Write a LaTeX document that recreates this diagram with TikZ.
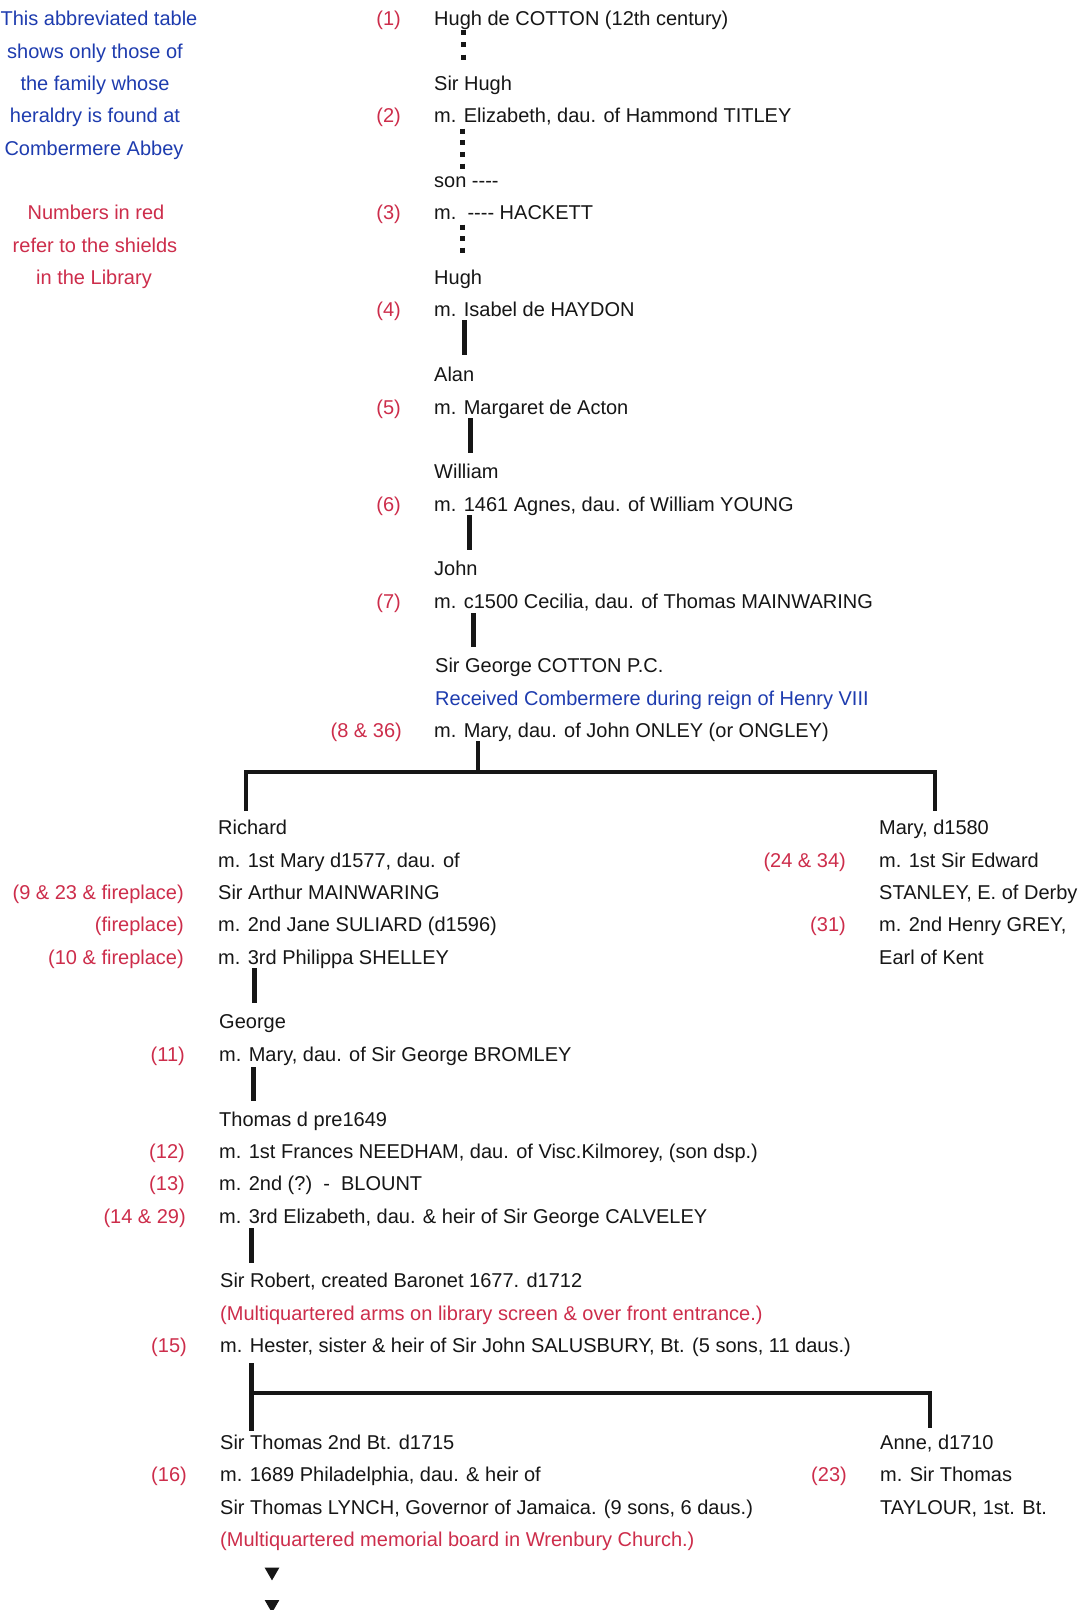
\documentclass[tikz,border=0pt]{standalone}
\usepackage{fontspec}
\setmainfont{Liberation Sans}
\usetikzlibrary{shapes.geometric}
\definecolor{ink}{RGB}{22,22,22}
\definecolor{numred}{RGB}{205,45,75}
\definecolor{noteblue}{RGB}{30,60,175}
\newcommand\rowy[1]{18.6+32.36*#1}
\tikzset{
  basetext/.style={inner sep=0pt, text height=14.3pt, text depth=0pt, font=\fontsize{20}{24}\selectfont},
  txt/.style={basetext, anchor=west, text=ink},
  num/.style={basetext, anchor=east, text=numred},
  bluetxt/.style={basetext, anchor=west, text=noteblue},
  redtxt/.style={basetext, anchor=west, text=numred},
  bluenote/.style={basetext, anchor=center, text=noteblue},
  rednote/.style={basetext, anchor=center, text=numred},
  conn/.style={draw=ink, line width=5pt, line cap=butt},
  branch/.style={draw=ink, line width=4.8pt, line join=miter, line cap=butt},
  dots/.style={draw=ink, line width=5pt, line cap=butt},
  tri/.style={fill=ink, regular polygon, regular polygon sides=3, shape border rotate=180, inner sep=0pt, minimum size=17pt}
}
\begin{document}
\begin{tikzpicture}[x=1pt,y=-1pt]
\useasboundingbox[fill=white] (0,0) rectangle (1087,1610);

% left notes
\node[bluenote] (n1) at (99,\rowy{0}) {This abbreviated table};
\node[bluenote] (n2) at (95,\rowy{1}) {shows only those of};
\node[bluenote] (n3) at (95,\rowy{2}) {the family whose};
\node[bluenote] (n4) at (95,\rowy{3}) {heraldry is found at};
\node[bluenote] (n5) at (94,\rowy{4}) {Combermere Abbey};
\node[rednote] (r1) at (96,\rowy{6}) {Numbers in red};
\node[rednote] (r2) at (95,\rowy{7}) {refer to the shields};
\node[rednote] (r3) at (94,\rowy{8}) {in the Library};

% main column
\node[num] (k1) at (401,\rowy{0}) {(1)};
\node[txt] (hugh1) at (434,\rowy{0}) {Hugh de COTTON (12th century)};
\node[txt] (sirhugh) at (434,\rowy{2}) {Sir Hugh};
\node[num] (k2) at (401,\rowy{3}) {(2)};
\node[txt] (m2) at (434,\rowy{3}) {m. Elizabeth, dau. of Hammond TITLEY};
\node[txt] (son) at (434,\rowy{5}) {son -{}-{}-{}-};
\node[num] (k3) at (401,\rowy{6}) {(3)};
\node[txt] (m3) at (434,\rowy{6}) {m.\ \ -{}-{}-{}- HACKETT};
\node[txt] (hugh2) at (434,\rowy{8}) {Hugh};
\node[num] (k4) at (401,\rowy{9}) {(4)};
\node[txt] (m4) at (434,\rowy{9}) {m. Isabel de HAYDON};
\node[txt] (alan) at (434,\rowy{11}) {Alan};
\node[num] (k5) at (401,\rowy{12}) {(5)};
\node[txt] (m5) at (434,\rowy{12}) {m. Margaret de Acton};
\node[txt] (william) at (434,\rowy{14}) {William};
\node[num] (k6) at (401,\rowy{15}) {(6)};
\node[txt] (m6) at (434,\rowy{15}) {m. 1461 Agnes, dau. of William YOUNG};
\node[txt] (john) at (434,\rowy{17}) {John};
\node[num] (k7) at (401,\rowy{18}) {(7)};
\node[txt] (m7) at (434,\rowy{18}) {m. c1500 Cecilia, dau. of Thomas MAINWARING};
\node[txt] (george1) at (435,\rowy{20}) {Sir George COTTON P.C.};
\node[bluetxt] (recv) at (435,\rowy{21}) {Received Combermere during reign of Henry VIII};
\node[num] (k8) at (402,\rowy{22}) {(8 \& 36)};
\node[txt] (m8) at (434,\rowy{22}) {m. Mary, dau. of John ONLEY (or ONGLEY)};

% left branch
\node[txt] (richard) at (218,\rowy{25}) {Richard};
\node[txt] (m9a) at (218,\rowy{26}) {m. 1st Mary d1577, dau. of};
\node[num] (k9) at (184,\rowy{27}) {(9 \& 23 \& fireplace)};
\node[txt] (m9b) at (218,\rowy{27}) {Sir Arthur MAINWARING};
\node[num] (kf) at (184,\rowy{28}) {(fireplace)};
\node[txt] (m9c) at (218,\rowy{28}) {m. 2nd Jane SULIARD (d1596)};
\node[num] (k10) at (184,\rowy{29}) {(10 \& fireplace)};
\node[txt] (m10) at (218,\rowy{29}) {m. 3rd Philippa SHELLEY};
\node[txt] (george2) at (219,\rowy{31}) {George};
\node[num] (k11) at (185,\rowy{32}) {(11)};
\node[txt] (m11) at (219,\rowy{32}) {m. Mary, dau. of Sir George BROMLEY};
\node[txt] (thomas) at (219,\rowy{34}) {Thomas d pre1649};
\node[num] (k12) at (185,\rowy{35}) {(12)};
\node[txt] (m12) at (219,\rowy{35}) {m. 1st Frances NEEDHAM, dau. of Visc.Kilmorey, (son dsp.)};
\node[num] (k13) at (185,\rowy{36}) {(13)};
\node[txt] (m13) at (219,\rowy{36}) {m. 2nd (?)\ \ -\ \ BLOUNT};
\node[num] (k14) at (186,\rowy{37}) {(14 \& 29)};
\node[txt] (m14) at (219,\rowy{37}) {m. 3rd Elizabeth, dau. \& heir of Sir George CALVELEY};
\node[txt] (robert) at (220,\rowy{39}) {Sir Robert, created Baronet 1677. d1712};
\node[redtxt] (arms) at (220,\rowy{40}) {(Multiquartered arms on library screen \& over front entrance.)};
\node[num] (k15) at (187,\rowy{41}) {(15)};
\node[txt] (m15) at (220,\rowy{41}) {m. Hester, sister \& heir of Sir John SALUSBURY, Bt. (5 sons, 11 daus.)};
\node[txt] (thomas2) at (220,\rowy{44}) {Sir Thomas 2nd Bt. d1715};
\node[num] (k16) at (187,\rowy{45}) {(16)};
\node[txt] (m16a) at (220,\rowy{45}) {m. 1689 Philadelphia, dau. \& heir of};
\node[txt] (m16b) at (220,\rowy{46}) {Sir Thomas LYNCH, Governor of Jamaica. (9 sons, 6 daus.)};
\node[redtxt] (board) at (220,\rowy{47}) {(Multiquartered memorial board in Wrenbury Church.)};
\node[tri] (t1) at (272,\rowy{48}) {};
\node[tri] (t2) at (272,\rowy{49}) {};

% right branch (Mary)
\node[txt] (mary) at (879,\rowy{25}) {Mary, d1580};
\node[num] (k24) at (846,\rowy{26}) {(24 \& 34)};
\node[txt] (mm1) at (879,\rowy{26}) {m. 1st Sir Edward};
\node[txt] (mm2) at (879,\rowy{27}) {STANLEY, E. of Derby};
\node[num] (k31) at (846,\rowy{28}) {(31)};
\node[txt] (mm3) at (879,\rowy{28}) {m. 2nd Henry GREY,};
\node[txt] (mm4) at (879,\rowy{29}) {Earl of Kent};

% right branch (Anne)
\node[txt] (anne) at (880,\rowy{44}) {Anne, d1710};
\node[num] (k23) at (847,\rowy{45}) {(23)};
\node[txt] (am1) at (880,\rowy{45}) {m. Sir Thomas};
\node[txt] (am2) at (880,\rowy{46}) {TAYLOUR, 1st. Bt.};

% connector end points
\coordinate (d1a) at (463,29.5);   \coordinate (d1b) at (463,59.5);
\coordinate (d2a) at (462,128.5);  \coordinate (d2b) at (462,168.6);
\coordinate (d3a) at (462,224.5);  \coordinate (d3b) at (462,252.5);
\coordinate (l4a) at (464,320);    \coordinate (l4b) at (464,355);
\coordinate (l5a) at (470,418);    \coordinate (l5b) at (470,453);
\coordinate (l6a) at (469,515);    \coordinate (l6b) at (469,550);
\coordinate (l7a) at (473,613);    \coordinate (l7b) at (473,647);
\coordinate (b1t) at (478,741);    \coordinate (b1m) at (478,772);
\coordinate (b1l) at (246,811);    \coordinate (b1r) at (935,811);
\coordinate (l10a) at (254,968);   \coordinate (l10b) at (254,1003);
\coordinate (l11a) at (253,1067);  \coordinate (l11b) at (253,1101);
\coordinate (l14a) at (251,1228);  \coordinate (l14b) at (251,1263);
\coordinate (b2t) at (251.5,1363); \coordinate (b2b) at (251.5,1431);
\coordinate (b2m) at (251.5,1393); \coordinate (b2r) at (930,1428);

% dotted descents
\draw[dots, dash pattern=on 5pt off 7.5pt] (d1a) -- (d1b);
\draw[dots, dash pattern=on 5pt off 6.7pt] (d2a) -- (d2b);
\draw[dots, dash pattern=on 5pt off 6.5pt] (d3a) -- (d3b);
% solid descents
\draw[conn] (l4a) -- (l4b);
\draw[conn] (l5a) -- (l5b);
\draw[conn] (l6a) -- (l6b);
\draw[conn] (l7a) -- (l7b);
\draw[branch] (b1t) -- (b1m);
\draw[branch] (b1l) -- (b1l |- b1m) -- (b1r |- b1m) -- (b1r);
\draw[conn] (l10a) -- (l10b);
\draw[conn] (l11a) -- (l11b);
\draw[conn] (l14a) -- (l14b);
\draw[branch] (b2t) -- (b2b);
\draw[branch] (b2m) -- (b2r |- b2m) -- (b2r);
\end{tikzpicture}
\end{document}
